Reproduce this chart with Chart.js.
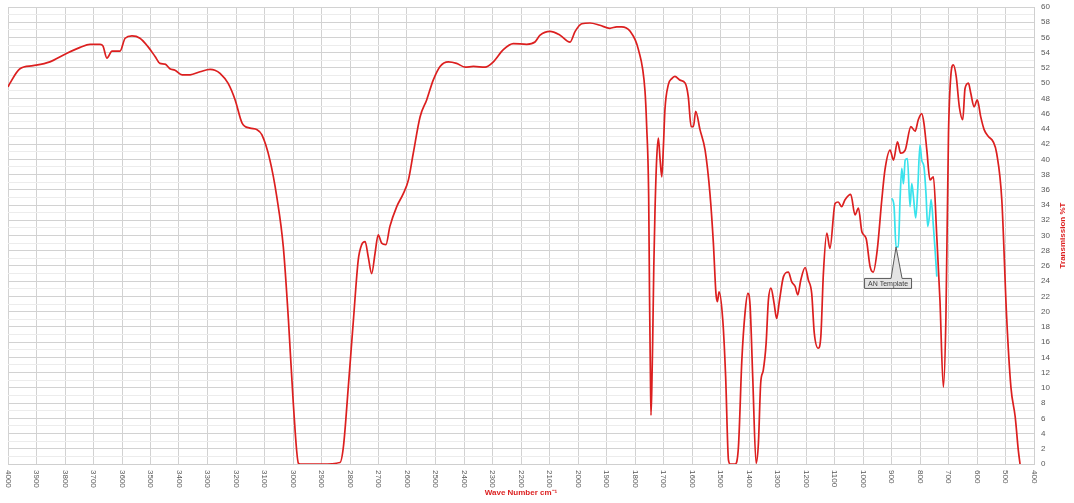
<!DOCTYPE html>
<html>
<head>
<meta charset="utf-8">
<script src="https://cdn.jsdelivr.net/npm/chart.js@4"></script>
<style>
    body { margin: 0; background: #fff; }
    #wrap { width: 1074px; height: 503px; position: relative; }
</style>
</head>
<body>
<div id="wrap"><canvas id="graficoIR"></canvas></div>
<script>
// Espectro principal (cm-1, %T)
const waveNumbers = [4000, 3993, 3958, 3912, 3853, 3800, 3747, 3712, 3677, 3667, 3653, 3635, 3607, 3589, 3565, 3537, 3509, 3484, 3467, 3449,
    3432, 3414, 3389, 3361, 3326, 3291, 3274, 3256, 3228, 3203, 3179, 3151, 3126, 3109, 3081, 3057, 3034, 3016, 2999, 2981,
    2975, 2900, 2835, 2823, 2806, 2788, 2771, 2759, 2747, 2736, 2724, 2712, 2701, 2689, 2674, 2660, 2636, 2613, 2595, 2578,
    2554, 2531, 2508, 2484, 2455, 2426, 2396, 2367, 2326, 2297, 2262, 2227, 2180, 2151, 2133, 2098, 2063, 2028, 2010, 1987,
    1958, 1923, 1888, 1864, 1847, 1817, 1788, 1765, 1759, 1752, 1749, 1746, 1744, 1741, 1738, 1734, 1730, 1724, 1718, 1712,
    1706, 1700, 1695, 1683, 1671, 1660, 1642, 1624, 1613, 1603, 1595, 1587, 1572, 1554, 1537, 1525, 1516, 1511, 1505, 1492,
    1482, 1472, 1466, 1449, 1437, 1425, 1414, 1404, 1396, 1387, 1375, 1367, 1359, 1350, 1340, 1332, 1323, 1312, 1303, 1293,
    1279, 1262, 1250, 1238, 1229, 1218, 1203, 1192, 1180, 1171, 1157, 1148, 1139, 1127, 1116, 1098, 1087, 1075, 1063, 1043,
    1028, 1016, 1004, 989, 975, 964, 950, 934, 923, 905, 893, 879, 868, 852, 832, 817, 806, 794, 786, 776,
    765, 753, 741, 730, 718, 709, 700, 692, 683, 673, 662, 650, 642, 630, 622, 610, 599, 587, 575, 560,
    543, 531, 513, 496, 481, 466, 455, 449];
const transmission = [49.5, 50.0, 51.9, 52.3, 52.8, 53.8, 54.7, 55.1, 55.1, 54.9, 53.3, 54.2, 54.2, 55.9, 56.2, 55.9, 54.8, 53.5, 52.6, 52.5,
    51.9, 51.7, 51.1, 51.1, 51.5, 51.8, 51.7, 51.3, 50.0, 47.8, 44.8, 44.1, 43.9, 43.2, 39.9, 35.1, 28.5, 18.9, 8.0, 0.1,
    0, 0, 0.2, 2.3, 10.1, 18.9, 26.8, 28.8, 29.2, 27.2, 25.0, 27.7, 30.1, 29.0, 28.8, 31.2, 33.8, 35.5, 37.3, 40.8,
    45.6, 47.8, 50.4, 52.2, 52.8, 52.6, 52.1, 52.2, 52.1, 52.8, 54.4, 55.2, 55.1, 55.4, 56.3, 56.8, 56.3, 55.4, 56.8, 57.8,
    57.9, 57.6, 57.2, 57.4, 57.4, 56.8, 54.4, 49.0, 44.3, 35.0, 22.0, 12.0, 6.4, 10.0, 16.0, 26.0, 33.0, 40.0, 42.8, 40.0,
    37.7, 42.0, 46.5, 49.8, 50.6, 50.9, 50.4, 50.0, 48.2, 44.3, 44.3, 46.3, 43.9, 41.2, 35.5, 29.0, 22.4, 21.3, 22.6, 18.9,
    11.5, 0.5, 0, 0, 2.3, 13.7, 19.8, 22.4, 20.7, 11.5, 0.1, 2.7, 10.6, 12.3, 15.8, 21.5, 23.1, 21.1, 19.1, 21.5,
    24.6, 25.2, 23.9, 23.3, 22.2, 24.2, 25.8, 24.2, 22.4, 17.2, 15.2, 16.7, 25.0, 30.3, 28.3, 34.2, 34.4, 33.8, 34.7, 35.4,
    32.7, 33.6, 30.5, 29.6, 25.9, 25.2, 28.1, 34.7, 38.6, 41.2, 39.9, 42.3, 40.8, 41.2, 44.3, 43.7, 45.2, 46.0, 44.7, 41.2,
    37.3, 37.7, 29.8, 21.5, 10.1, 19.3, 43.4, 50.9, 52.4, 50.9, 46.9, 45.2, 49.3, 50.0, 48.7, 46.9, 47.8, 45.6, 43.9, 43.0,
    42.3, 40.8, 34.7, 19.3, 10.1, 6.2, 1.8, 0];

// Espectro do template AN
const templateWave = [899, 891, 884, 876, 870, 864, 858, 852, 844, 835, 829, 823, 815, 808, 800, 794, 786, 779, 773, 767, 761, 753, 747, 741];
const templateT = [34.9, 33.8, 28.5, 28.5, 34.7, 38.8, 36.8, 39.9, 40.1, 33.8, 36.8, 35.1, 32.3, 36.0, 41.9, 39.9, 39.0, 35.5, 31.2, 32.5, 34.7, 31.2, 28.1, 24.6];

const annotationLabel = 'AN Template';
const annotationIndex = 2;

const xTitle = 'Wave Number cm⁻¹';
const yTitle = 'Transmission %T';

const FONT = '"Liberation Sans", Arial, sans-serif';
const RED = '#dc1f1f';

// Desenha rótulos girados, títulos e a anotação
const extras = {
    id: 'extras',
    afterDraw(chart) {
        const ctx = chart.ctx;
        const xs = chart.scales.x;
        const ys = chart.scales.y;

        ctx.save();
        ctx.fillStyle = '#595959';
        ctx.font = '8px ' + FONT;
        ctx.textAlign = 'left';
        ctx.textBaseline = 'middle';
        xs.ticks.forEach(t => {
            const px = xs.getPixelForValue(t.value);
            ctx.save();
            ctx.translate(px, xs.top + 6);
            ctx.rotate(Math.PI / 2);
            ctx.fillText(String(t.value), 0, 0);
            ctx.restore();
        });

        ctx.fillStyle = RED;
        ctx.font = 'bold 8px ' + FONT;
        ctx.textAlign = 'center';
        ctx.fillText(xTitle, (xs.left + xs.right) / 2, 493);

        ctx.save();
        ctx.translate(1063, (ys.top + ys.bottom) / 2);
        ctx.rotate(-Math.PI / 2);
        ctx.fillText(yTitle, 0, 0);
        ctx.restore();

        // Anotação
        const pt = chart.getDatasetMeta(1).data[annotationIndex];
        const tx = pt.x, ty = pt.y;
        const bx = tx - 32, by = ty + 31, bw = 47, bh = 10;
        ctx.fillStyle = '#e4e4e4';
        ctx.strokeStyle = '#5a5a5a';
        ctx.lineWidth = 1;
        ctx.beginPath();
        ctx.moveTo(bx + 0.5, by + 0.5);
        ctx.lineTo(tx - 5, by + 0.5);
        ctx.lineTo(tx, ty);
        ctx.lineTo(tx + 6, by + 0.5);
        ctx.lineTo(bx + bw + 0.5, by + 0.5);
        ctx.lineTo(bx + bw + 0.5, by + bh + 0.5);
        ctx.lineTo(bx + 0.5, by + bh + 0.5);
        ctx.closePath();
        ctx.fill();
        ctx.stroke();
        ctx.fillStyle = '#404040';
        ctx.font = '7px ' + FONT;
        ctx.textAlign = 'center';
        ctx.fillText(annotationLabel, bx + bw / 2 + 0.5, by + bh / 2 + 1);
        ctx.restore();
    }
};

const ctxIR = document.getElementById('graficoIR').getContext('2d');
const graficoIR = new Chart(ctxIR, {
    type: 'line',
    data: {
        datasets: [{
            data: waveNumbers.map((w, i) => ({ x: w, y: transmission[i] })),
            borderColor: RED,
            borderWidth: 1.7,
            pointRadius: 0,
            cubicInterpolationMode: 'monotone',
            fill: false
        }, {
            data: templateWave.map((w, i) => ({ x: w, y: templateT[i] })),
            borderColor: '#38e2ec',
            borderWidth: 1.7,
            pointRadius: 0,
            cubicInterpolationMode: 'monotone',
            fill: false
        }]
    },
    options: {
        responsive: true,
        maintainAspectRatio: false,
        animation: false,
        layout: { padding: { left: 8, top: 7, right: 0, bottom: 0 } },
        plugins: {
            legend: { display: false },
            tooltip: { enabled: false }
        },
        scales: {
            x: {
                type: 'linear',
                reverse: true,
                min: 400,
                max: 4000,
                ticks: { display: false, stepSize: 100 },
                grid: { color: '#d2d2d2', drawTicks: false },
                border: { color: '#cfcfcf' },
                afterFit(scale) { scale.height = 39; }
            },
            y: {
                position: 'right',
                min: 0,
                max: 60,
                ticks: {
                    stepSize: 1,
                    autoSkip: false,
                    padding: 7,
                    color: '#595959',
                    font: { size: 8, family: FONT },
                    callback: v => (v % 2 === 0 ? v : '')
                },
                grid: {
                    drawTicks: false,
                    color: c => (c.tick && c.tick.value % 2 === 0 ? '#d2d2d2' : '#ececec')
                },
                border: { color: '#cfcfcf' },
                afterFit(scale) {
                    scale.width = 40;
                    scale.paddingTop = 0;
                    scale.paddingBottom = 0;
                }
            }
        }
    },
    plugins: [extras]
});
</script>
</body>
</html>
